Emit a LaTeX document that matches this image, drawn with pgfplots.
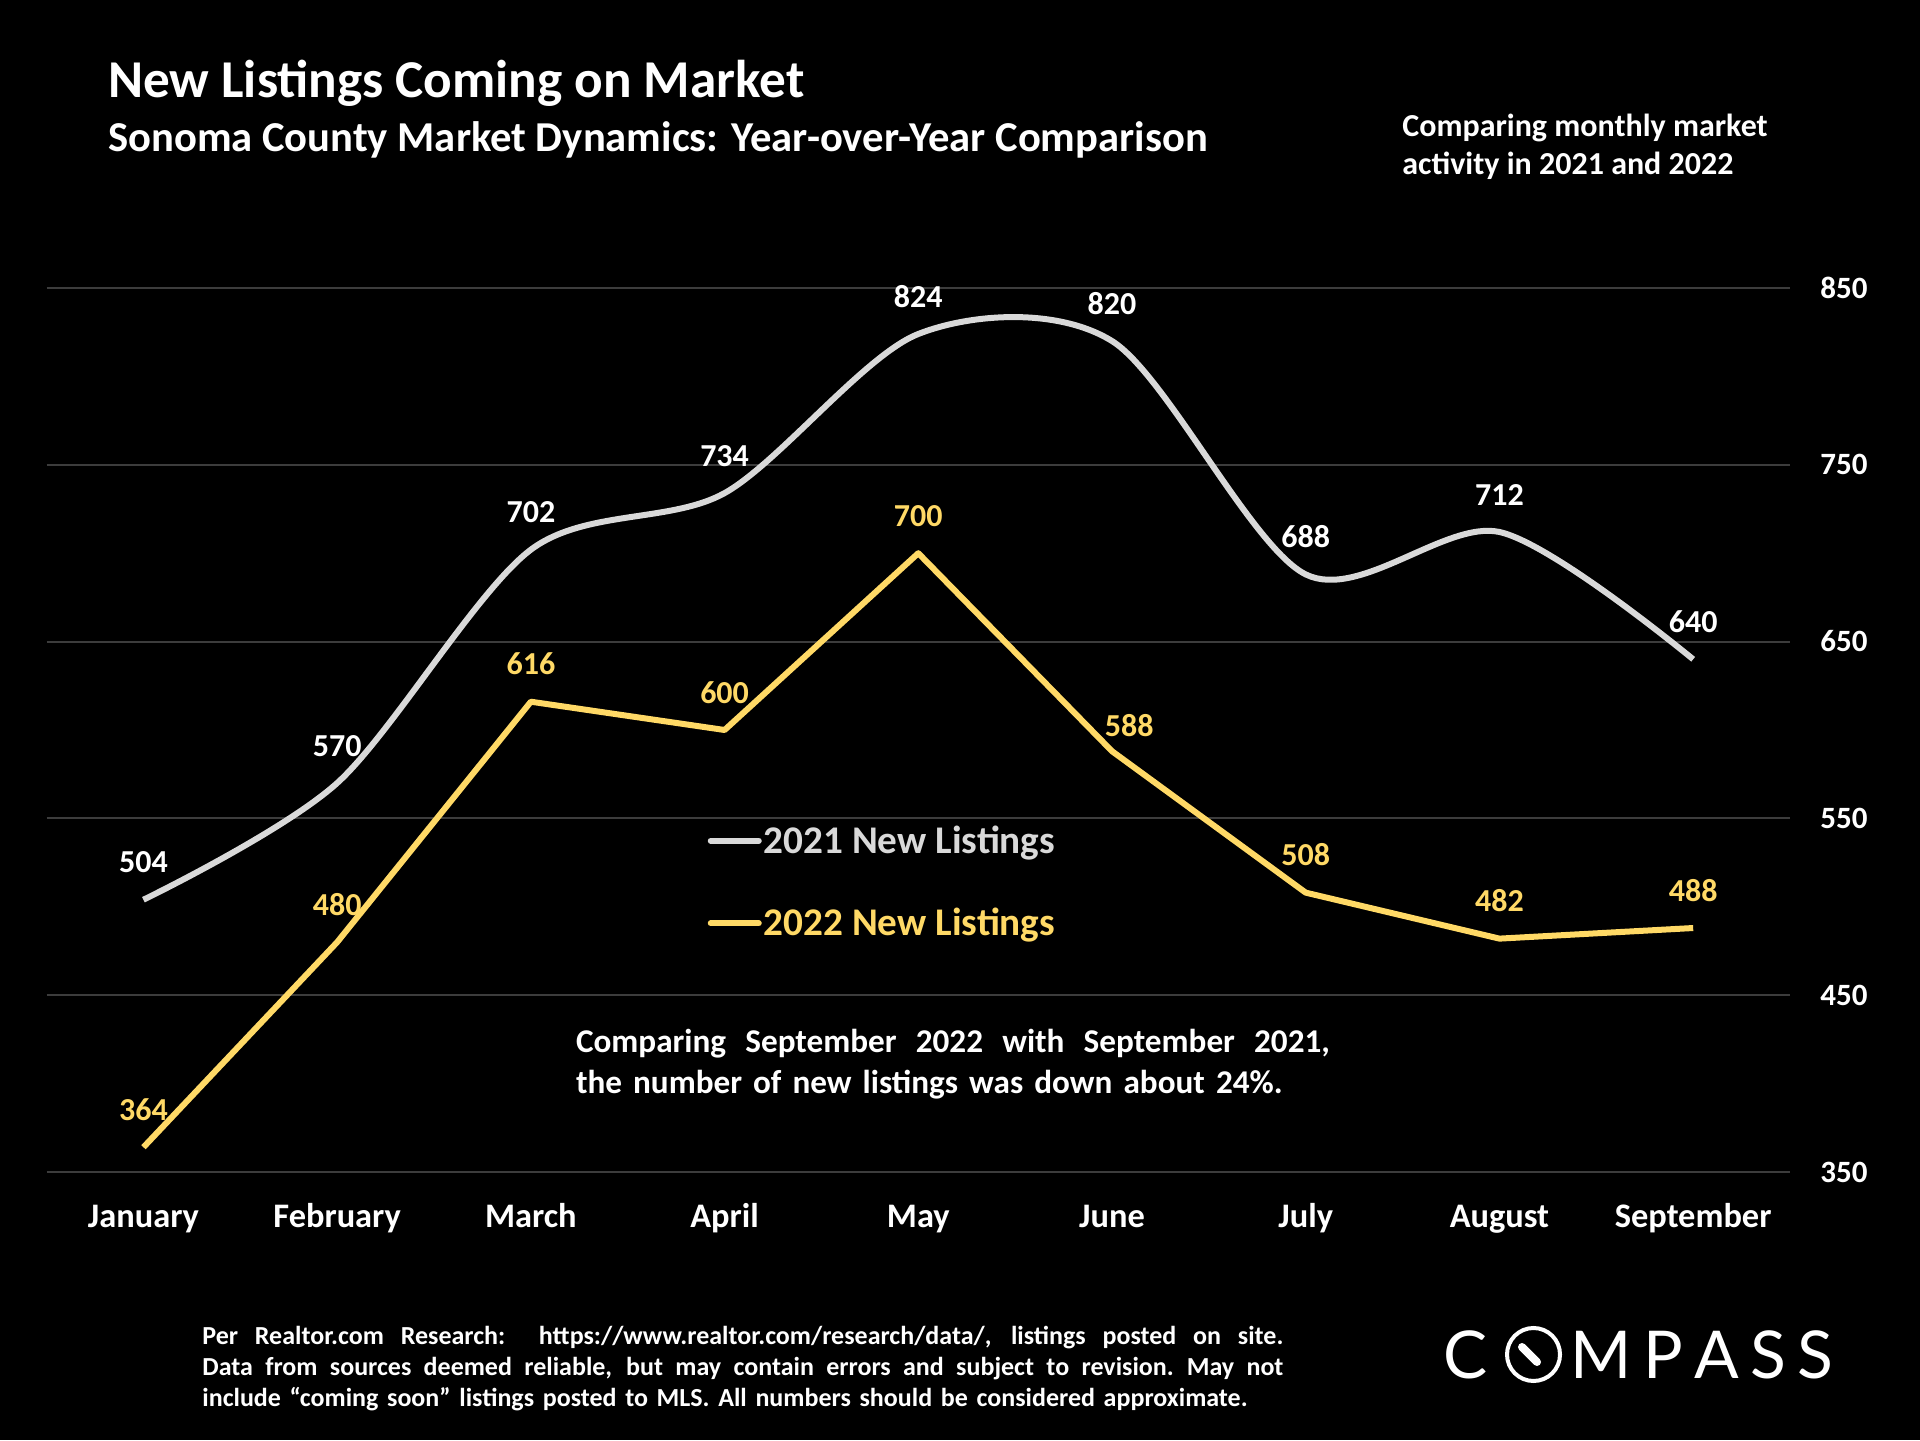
\documentclass[border=0pt]{standalone}
\usepackage{pgfplots}
\pgfplotsset{compat=1.18}
\usepackage{pgfplotstable}
\usepackage{fontspec}
\setmainfont{Carlito}
\newfontfamily\logofont{Lato}
\definecolor{gridc}{HTML}{3C3C3C}
\definecolor{cA}{HTML}{D9D9D9}
\definecolor{cB}{HTML}{FFD966}

\pgfplotstableread{
x y dx dy
0 504 0 0
1 570 0 0
2 702 0 0
3 734 0 0
4 824 0 0
5 820 0 0
6 688 0 0
7 712 0 0
8 640 0 0
}\dataA
\pgfplotstableread{
x y dx dy
0 364 0 0
1 480 0 0
2 616 0 0
3 600 0 0
4 700 0 0
5 588 8.6 -6.1
6 508 0 0
7 482 0 0
8 488 0 0
}\dataB

\newcommand\jline[2]{\leavevmode\hbox to #1{\spaceskip=0.23em plus 1fil\relax #2}}

\begin{document}
\begin{tikzpicture}
\fill[black] (0,0) rectangle (960pt,720pt);
\node[anchor=base west, inner sep=0, text=white, font=\bfseries\fontsize{26.6}{30}\selectfont] at (53.9pt,671pt) {New Listings Coming on Market};
\node[anchor=base west, inner sep=0, text=white, font=\bfseries\fontsize{21.3}{25}\selectfont] at (53.9pt,644pt) {Sonoma County Market Dynamics: Year-over-Year Comparison};
\node[anchor=base west, inner sep=0, text=white, font=\bfseries\fontsize{16}{19}\selectfont] at (701pt,651.5pt) {Comparing monthly market};
\node[anchor=base west, inner sep=0, text=white, font=\bfseries\fontsize{16}{19}\selectfont] at (701pt,632.5pt) {activity in 2021 and 2022};

\begin{axis}[
  at={(23.3pt,134pt)}, anchor=south west, scale only axis,
  width=871.7pt, height=442pt,
  xmin=-0.5, xmax=8.5, ymin=350, ymax=850,
  xtick={0,...,8},
  xticklabels={January,February,March,April,May,June,July,August,September},
  ytick={350,450,550,650,750,850},
  yticklabel pos=right,
  axis line style={draw=none},
  major tick length=0pt,
  ymajorgrids, grid style={gridc, line width=1pt},
  xticklabel style={anchor=base, inner sep=0pt, yshift=-27.6pt, text=white, font=\bfseries\fontsize{17.2}{20}\selectfont},
  yticklabel style={anchor=base west, inner sep=0pt, xshift=15pt, yshift=-5pt, text=white, font=\bfseries\fontsize{15.5}{18}\selectfont},
  /pgf/number format/assume math mode=true,
  clip=false,
  legend style={draw=none, fill=none, at={(0.379,0.328)}, anchor=west, inner sep=0pt, row sep=26pt, font=\bfseries\fontsize{19.6}{24}\selectfont, nodes={inner xsep=1pt, inner ysep=0pt}},
  legend cell align=left,
  legend image code/.code={\draw[#1, line width=3pt, line cap=round] (1.5pt,0pt) -- (25.5pt,0pt);},
  visualization depends on={\thisrow{dx} \as \dx},
  visualization depends on={\thisrow{dy} \as \dy},
  nodes near coords,
  point meta=explicit symbolic,
  every node near coord/.append style={anchor=base, inner sep=0pt, yshift=13.4pt+\dy pt, xshift=\dx pt, font=\bfseries\fontsize{16}{19}\selectfont},
]
\addplot[cA, line width=3pt, smooth, no markers, nodes near coords style={text=white}] table[x=x, y=y, meta=y] {\dataA};
\addlegendentry{\textcolor{cA}{2021 New Listings}}
\addplot[cB, line width=3pt, no markers, line join=round, nodes near coords style={text=cB}] table[x=x, y=y, meta=y] {\dataB};
\addlegendentry{\textcolor{cB}{2022 New Listings}}
\end{axis}

\node[anchor=base west, inner sep=0, text=white, font=\bfseries\fontsize{16.6}{20.5}\selectfont, text width=377pt] at (287.8pt,193.5pt) {\jline{377pt}{Comparing September 2022 with September 2021,}\\the number of new listings was down about 24\%.};

\node[anchor=base west, inner sep=0, text=white, font=\bfseries\fontsize{13}{15.5}\selectfont, text width=540.5pt] at (101pt,48pt) {\jline{540.5pt}{Per Realtor.com Research:\ \ https://www.realtor.com/research/data/, listings posted on site.}\\\jline{540.5pt}{Data from sources deemed reliable, but may contain errors and subject to revision. May not}\\include “coming soon” listings posted to MLS. All numbers should be considered approximate.};

% logo
\node[anchor=base west, inner sep=0, text=white, font=\logofont\fontsize{33}{36}\selectfont] at (721.5pt,31pt) {C};
\draw[white, line width=2pt] (766.75pt,42.75pt) circle (13.25pt);
\draw[white, line width=4pt, line cap=round] (761pt,46.5pt) -- (768.5pt,39pt);
\node[anchor=base west, inner sep=0, text=white, font=\logofont\fontsize{33}{36}\selectfont] at (785pt,31pt) {\hbox to 131.5pt{M\hfil P\hfil A\hfil S\hfil S}};
\end{tikzpicture}
\end{document}
